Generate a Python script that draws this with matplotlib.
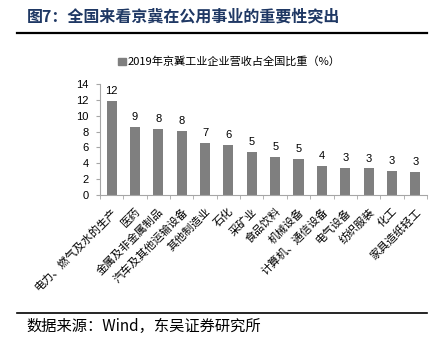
import numpy as np
import matplotlib.pyplot as plt
from matplotlib.patches import Patch

plt.rcParams['font.family'] = ['Noto Sans CJK SC', 'DejaVu Sans']

industries = ['电力、燃气及水的生产', '医药', '金属及非金属制品', '汽车及其他运输设备',
              '其他制造业', '石化', '采矿业', '食品饮料', '机械设备', '计算机、通信设备',
              '电气设备', '纺织服装', '化工', '家具造纸轻工']
share = [11.9, 8.6, 8.3, 8.1, 6.6, 6.3, 5.4, 4.8, 4.6, 3.65, 3.45, 3.35, 3.0, 2.9]
shown = [12, 9, 8, 8, 7, 6, 5, 5, 5, 4, 3, 3, 3, 3]

bar_color = '#7f7f7f'
spine_color = '#a6a6a6'
num_font = ['Liberation Sans', 'DejaVu Sans']

fig = plt.figure(figsize=(4.45, 3.54), dpi=100)
ax = fig.add_axes([0.2247, 0.449, 0.7348, 0.314])

x = np.arange(len(industries))
ax.bar(x, share, width=0.43, color=bar_color, zorder=2)
for xi, v, s in zip(x, share, shown):
    ax.text(xi, v + 0.6, str(s), ha='center', va='bottom', fontsize=8, family=num_font)

ax.set_xlim(-0.5, len(industries) - 0.5)
ax.set_ylim(0, 14)
ax.set_yticks(range(0, 15, 2))
ax.set_yticklabels([str(t) for t in range(0, 15, 2)], fontsize=8, family=num_font)

ax.set_xticks(x)
ax.set_xticklabels(industries, rotation=45, ha='right', rotation_mode='anchor', fontsize=8)
ax.set_xticks(np.arange(-0.5, len(industries), 1), minor=True)
ax.tick_params(axis='x', which='major', length=0, pad=8)
ax.tick_params(axis='x', which='minor', length=3, color=spine_color, direction='out')
ax.tick_params(axis='y', length=3, color=spine_color, direction='out', pad=5)

for side in ['top', 'right']:
    ax.spines[side].set_visible(False)
for side in ['left', 'bottom']:
    ax.spines[side].set_color(spine_color)
    ax.spines[side].set_linewidth(0.8)

handle = Patch(color=bar_color)
fig.legend([handle], ['2019年京冀工业企业营收占全国比重（%）'], loc='center',
           bbox_to_anchor=(0.515, 0.825), frameon=False, fontsize=8,
           handlelength=0.7, handleheight=0.7, handletextpad=0.2)

fig.text(0.06, 0.955, '图7：全国来看京冀在公用事业的重要性突出', fontsize=11.5,
         fontweight='bold', color='#1f3864', va='center')
fig.add_artist(plt.Line2D([0.038, 0.96], [0.907, 0.907], color='black', lw=1.6))
fig.add_artist(plt.Line2D([0.038, 0.96], [0.117, 0.117], color='black', lw=1.2))
fig.text(0.06, 0.079, '数据来源：Wind，东吴证券研究所', fontsize=11, va='center')

fig.savefig('out.png', dpi=100)
